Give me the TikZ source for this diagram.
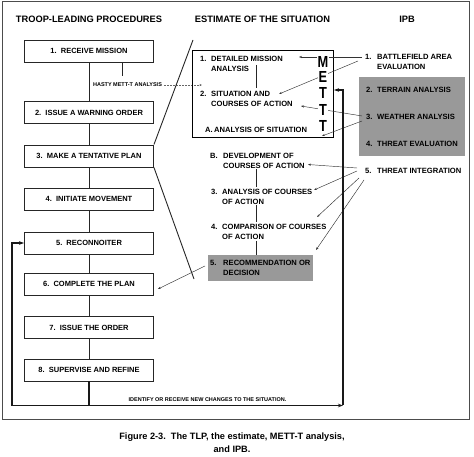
\documentclass[tikz,border=0pt]{standalone}
\usepackage{fontspec}
\setmainfont{Liberation Sans}
\usetikzlibrary{arrows.meta}
\newcommand\mlines[1]{\begin{tabular}[t]{@{}l@{}}#1\end{tabular}}
\newcommand\mettl[1]{\scalebox{0.8}[1]{#1}}
\begin{document}
\begin{tikzpicture}[x=1pt,y=-1pt,
  tlpbox/.style={draw=black!85, line width=0.9pt, minimum width=129pt, minimum height=22pt, inner sep=0pt, font=\fontsize{7.5}{9}\selectfont\bfseries},
  head/.style={inner sep=0pt, font=\fontsize{9.3}{11}\selectfont\bfseries},
  tx/.style={anchor=base west, inner sep=0pt, font=\fontsize{7.6}{9.8}\selectfont\bfseries},
  tinytx/.style={inner sep=0pt, font=\fontsize{5.5}{6}\selectfont\bfseries},
  mett/.style={inner sep=0.8pt, fill=white, font=\fontsize{16}{16}\selectfont\bfseries},
  conn/.style={line width=0.45pt, black!80, -{Stealth[length=3pt,width=2.2pt]}},
  flow/.style={line width=0.9pt, black!85},
  loopline/.style={line width=1.2pt, black!90},
  shade/.style={fill=black!40, inner sep=0pt},
]
\useasboundingbox (0,0) rectangle (474,457);
\draw[line width=0.8pt, black!70] (2.5,1.5) rectangle (469,419);

% headers
\node[head] (h1) at (89,19) {TROOP-LEADING PROCEDURES};
\node[head] (h2) at (262.5,19) {ESTIMATE OF THE SITUATION};
\node[head] (h3) at (407,19) {IPB};

% TLP boxes
\node[tlpbox] (s1) at (89,51) {1.\ \ RECEIVE MISSION};
\node[tlpbox] (s2) at (89,112.5) {2.\ \ ISSUE A WARNING ORDER};
\node[tlpbox] (s3) at (89,156) {3.\ \ MAKE A TENTATIVE PLAN};
\node[tlpbox] (s4) at (89,199) {4.\ \ INITIATE MOVEMENT};
\node[tlpbox] (s5) at (89,243) {5.\ \ RECONNOITER};
\node[tlpbox] (s6) at (89,284) {6.\ \ COMPLETE THE PLAN};
\node[tlpbox] (s7) at (89,327.5) {7.\ \ ISSUE THE ORDER};
\node[tlpbox] (s8) at (89,370) {8.\ \ SUPERVISE AND REFINE};
\foreach \a/\b in {s1/s2,s2/s3,s3/s4,s4/s5,s5/s6,s6/s7,s7/s8}
  \draw[flow] (\a) -- (\b);

% hasty METT-T
\coordinate (hk) at (122,76);
\draw[flow] (s1.south -| hk) -- (hk);
\node[tinytx] (hasty) at (127.5,85) {HASTY METT-T ANALYSIS};
\coordinate (hastyend) at (202,85);
\draw[line width=0.4pt, black!60, dash pattern=on 2pt off 1pt, -{Stealth[length=2.5pt,width=2pt]}] ([xshift=2pt]hasty.east) -- (hastyend);

% diagonals
\coordinate (dtop) at (193,40);
\coordinate (dbot) at (194,279);
\draw[flow] (s3.north east) -- (dtop);
\draw[flow] (s3.south east) -- (dbot);

% estimate box
\node[draw, line width=1pt, minimum width=141pt, minimum height=87pt, inner sep=0pt] (est) at (262.5,94.5) {};
\node[tx] (n1) at (200,61.7) {1.};
\node[tx] (e1) at (211,61.7) {\mlines{DETAILED MISSION\\ANALYSIS}};
\node[tx] (n2) at (200,96.7) {2.};
\node[tx] (e2) at (211,96.7) {\mlines{SITUATION AND\\COURSES OF ACTION}};
\node[tx] (nA) at (205,132.2) {A.};
\node[tx] (eA) at (214,132.2) {ANALYSIS OF SITUATION};
\coordinate (v1a) at (256,65);
\coordinate (v1b) at (256,88.5);
\draw[flow] (v1a) -- (v1b);

% lower estimate
\node[shade, minimum width=105pt, minimum height=26pt] (rec) at (260.5,268) {};
\node[tx] (nB) at (210,158.7) {B.};
\node[tx] (eB) at (223,158.7) {\mlines{DEVELOPMENT OF\\COURSES OF ACTION}};
\node[tx] (n3) at (211,194.7) {3.};
\node[tx] (e3) at (222,194.7) {\mlines{ANALYSIS OF COURSES\\OF ACTION}};
\node[tx] (n4) at (211,229.7) {4.};
\node[tx] (e4) at (222,229.7) {\mlines{COMPARISON OF COURSES\\OF ACTION}};
\node[tx] (n5) at (210,265.7) {5.};
\node[tx] (e5) at (223,265.7) {\mlines{RECOMMENDATION OR\\DECISION}};
\coordinate (v2a) at (256,169);
\coordinate (v2b) at (256,187);
\coordinate (v3a) at (256,205.5);
\coordinate (v3b) at (256,222.5);
\coordinate (v4a) at (256,241);
\draw[flow] (v2a) -- (v2b);
\draw[flow] (v3a) -- (v3b);
\draw[flow] (v4a) -- (rec.north -| v4a);

% IPB
\node[shade, minimum width=106pt, minimum height=79pt] (ipb) at (412,116.5) {};
\node[tx] (i1n) at (365,59.7) {1.};
\node[tx] (i1) at (377,59.7) {\mlines{BATTLEFIELD AREA\\EVALUATION}};
\node[tx] (i2n) at (366,92.7) {2.};
\node[tx] (i2) at (377,92.7) {TERRAIN ANALYSIS};
\node[tx] (i3n) at (366,119.7) {3.};
\node[tx] (i3) at (377,119.7) {WEATHER ANALYSIS};
\node[tx] (i4n) at (366,146.7) {4.};
\node[tx] (i4) at (377,146.7) {THREAT EVALUATION};
\node[tx] (i5n) at (365,173.4) {5.};
\node[tx] (i5) at (377,173.4) {THREAT INTEGRATION};

% IPB connectors
\coordinate (p1) at (362,57);   \coordinate (q1) at (299,57);
\coordinate (p2) at (358,61);   \coordinate (q2) at (279,94);
\coordinate (p3) at (362,116);  \coordinate (q3) at (301,106);
\coordinate (p4) at (362,121);  \coordinate (q4) at (322,136);
\coordinate (p5) at (357,168);  \coordinate (q5) at (308,164.5);
\coordinate (p6) at (357,171);  \coordinate (q6) at (314,190);
\coordinate (p7) at (359,178);  \coordinate (q7) at (317,217);
\coordinate (p8) at (364,180);  \coordinate (q8) at (316,250);
\foreach \i in {1,...,8} \draw[conn] (p\i) -- (q\i);

% METT-T letters
\node[mett] (mM) at (323,62) {\mettl{M}};
\node[mett] (mE) at (323,77) {\mettl{E}};
\node[mett] (mT1) at (323,93) {\mettl{T}};
\node[mett] (mT2) at (323,110) {\mettl{T}};
\node[mett] (mT3) at (323,126) {\mettl{T}};

% recommendation -> complete plan
\coordinate (r1) at (205,266);
\draw[conn] (r1) -- ([shift={(4pt,-5pt)}]s6.east);

% feedback loop
\coordinate (cornerL) at (12,405.5);
\coordinate (cornerR) at (343,405.5);
\coordinate (cornerT) at (343,90);
\coordinate (tipT) at (334,90);
\draw[loopline, -{Stealth[length=5pt,width=3.5pt]}] (s8.south) |- (cornerL) |- (s5.west);
\draw[loopline, -{Stealth[length=5pt,width=3.5pt]}] (s8.south |- cornerL) -- (cornerR);
\draw[loopline, -{Stealth[length=5pt,width=3.5pt]}] ([yshift=1pt]cornerR) -- (cornerT) -- (tipT);
\node[tinytx] (chg) at (207.5,400) {IDENTIFY OR RECEIVE NEW CHANGES TO THE SITUATION.};

% caption
\node[font=\fontsize{9.2}{13}\selectfont\bfseries, align=center, inner sep=0pt] (cap) at (232,443) {Figure 2-3.\ \ The TLP, the estimate, METT-T analysis,\\ and IPB.};
\end{tikzpicture}
\end{document}
